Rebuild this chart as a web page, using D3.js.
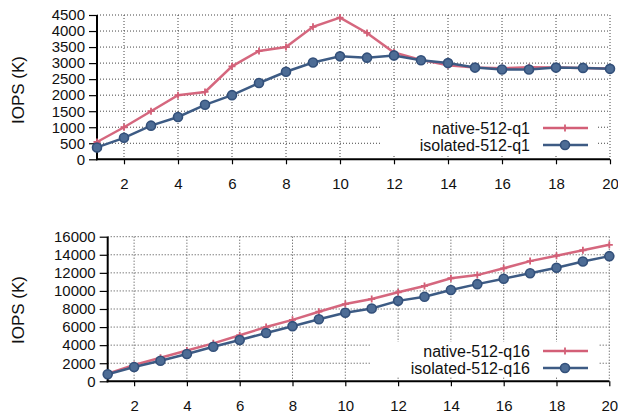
<!DOCTYPE html>
<html>
<head>
<meta charset="utf-8">
<script src="https://cdn.jsdelivr.net/npm/d3@7"></script>
<style>
  body { margin: 0; background: #fff; }
  svg { display: block; font-family: "Liberation Sans", Arial, Helvetica, sans-serif; }
</style>
</head>
<body>
<div id="graphic"></div>
<script>
// threads 1..20
var threads = d3.range(1, 21);

var native_q1 = [540, 1000, 1500, 2000, 2100, 2900, 3380, 3500, 4130, 4420,
                 3940, 3330, 3100, 2930, 2860, 2840, 2870, 2860, 2850, 2830];
var isolated_q1 = [370, 670, 1050, 1320, 1700, 2000, 2380, 2730, 3020, 3210,
                   3170, 3240, 3090, 3000, 2860, 2800, 2800, 2860, 2850, 2820];

var native_q16 = [850, 1800, 2600, 3400, 4200, 5100, 6000, 6800, 7700, 8550,
                  9100, 9850, 10550, 11400, 11750, 12500, 13300, 13900, 14500, 15100];
var isolated_q16 = [780, 1580, 2280, 3020, 3830, 4570, 5350, 6100, 6860, 7590,
                    8050, 8900, 9350, 10100, 10750, 11350, 11950, 12570, 13250, 13850];

var xTicks = [2, 4, 6, 8, 10, 12, 14, 16, 18, 20];
var yTicksTop = d3.range(0, 4501, 500);
var yTicksBottom = d3.range(0, 16001, 2000);

var red = "#d35f77", blue = "#3d5b84";

var svg = d3.select("#graphic").append("svg")
    .attr("width", 618)
    .attr("height", 417);

function panel(cfg) {
  var x = d3.scaleLinear().domain([1, 20]).range([cfg.left, cfg.right]);
  var y = d3.scaleLinear().domain([0, cfg.ymax]).range([cfg.bottom, cfg.top]);
  var g = svg.append("g");

  // dotted grid
  g.selectAll(".hg").data(cfg.yTicks.slice(1)).enter().append("line")
    .attr("x1", cfg.left).attr("x2", cfg.right)
    .attr("y1", function (d) { return y(d); }).attr("y2", function (d) { return y(d); })
    .attr("stroke", "#444").attr("stroke-width", 1).attr("stroke-dasharray", "1,2");
  g.selectAll(".vg").data(xTicks).enter().append("line")
    .attr("x1", function (d) { return x(d); }).attr("x2", function (d) { return x(d); })
    .attr("y1", cfg.top).attr("y2", cfg.bottom)
    .attr("stroke", "#444").attr("stroke-width", 1).attr("stroke-dasharray", "1,2");

  // legend box hides grid
  g.append("rect")
    .attr("x", cfg.legX).attr("y", cfg.legY)
    .attr("width", 598 - cfg.legX).attr("height", cfg.bottom - 5 - cfg.legY)
    .attr("fill", "#fff");

  // axes
  var ya = g.append("g")
    .attr("transform", "translate(" + cfg.left + ",0)")
    .call(d3.axisLeft(y).tickValues(cfg.yTicks).tickFormat(d3.format("d")).tickSize(8).tickPadding(4));
  var xa = g.append("g")
    .attr("transform", "translate(0," + cfg.bottom + ")")
    .call(d3.axisBottom(x).tickValues(xTicks).tickFormat(d3.format("d")).tickSize(5).tickPadding(14));
  [ya, xa].forEach(function (a) {
    a.select(".domain").attr("stroke", "#000").attr("stroke-width", 2);
    a.selectAll(".tick line").attr("stroke", "#000").attr("stroke-width", 1.2);
    a.selectAll(".tick text").attr("fill", "#111").style("font-size", "15px")
      .style("font-family", "'Liberation Sans', Arial, sans-serif");
  });
  ya.select(".domain").attr("d", "M0," + (cfg.bottom + 1) + "V" + cfg.top);
  xa.select(".domain").attr("d", "M" + (cfg.left - 1) + ",0H" + cfg.right);

  // y title
  g.append("text")
    .attr("transform", "translate(24," + cfg.titleY + ") rotate(-90)")
    .attr("text-anchor", "middle")
    .style("font-size", "17px").attr("fill", "#111")
    .text("IOPS (K)");

  var line = d3.line()
    .x(function (d, i) { return x(threads[i]); })
    .y(function (d) { return y(d); });

  // native
  g.append("path").datum(cfg.nat)
    .attr("d", line).attr("fill", "none")
    .attr("stroke", red).attr("stroke-width", 2.5).attr("stroke-opacity", 0.95);
  g.selectAll(".plus").data(cfg.nat).enter().append("path")
    .attr("d", function (d, i) {
      var px = x(threads[i]), py = y(d);
      return "M" + (px - 3.5) + "," + py + "H" + (px + 3.5) + "M" + px + "," + (py - 3.5) + "V" + (py + 3.5);
    })
    .attr("stroke", red).attr("stroke-width", 1.8);

  // isolated
  g.append("path").datum(cfg.iso)
    .attr("d", line).attr("fill", "none")
    .attr("stroke", blue).attr("stroke-width", 2.5);
  g.selectAll(".circ").data(cfg.iso).enter().append("circle")
    .attr("cx", function (d, i) { return x(threads[i]); })
    .attr("cy", function (d) { return y(d); })
    .attr("r", 4.5)
    .attr("fill", "#4d6c95").attr("stroke", "#33507a").attr("stroke-width", 1.6);

  // legend
  var legRows = [
    { name: cfg.natName, color: red, mark: "plus" },
    { name: cfg.isoName, color: blue, mark: "circle" }
  ];
  legRows.forEach(function (r, i) {
    var ly = cfg.legTextY + i * 17;
    g.append("text")
      .attr("x", 530).attr("y", ly + 5.5)
      .attr("text-anchor", "end")
      .style("font-size", "16px").attr("fill", "#111")
      .text(r.name);
    g.append("line")
      .attr("x1", 543).attr("x2", 588).attr("y1", ly).attr("y2", ly)
      .attr("stroke", r.color).attr("stroke-width", 2.5);
    if (r.mark === "plus") {
      g.append("path")
        .attr("d", "M561.5," + ly + "H568.5M565," + (ly - 3.5) + "V" + (ly + 3.5))
        .attr("stroke", red).attr("stroke-width", 1.8);
    } else {
      g.append("circle")
        .attr("cx", 565).attr("cy", ly).attr("r", 4.5)
        .attr("fill", "#4d6c95").attr("stroke", "#33507a").attr("stroke-width", 1.6);
    }
  });
}

panel({
  left: 97, right: 610, top: 15, bottom: 159.3, ymax: 4500,
  yTicks: yTicksTop, nat: native_q1, iso: isolated_q1,
  natName: "native-512-q1", isoName: "isolated-512-q1",
  legX: 382, legY: 118, legTextY: 128, titleY: 90
});

panel({
  left: 107.7, right: 609.3, top: 236.7, bottom: 381.3, ymax: 16000,
  yTicks: yTicksBottom, nat: native_q16, iso: isolated_q16,
  natName: "native-512-q16", isoName: "isolated-512-q16",
  legX: 370, legY: 342, legTextY: 351, titleY: 310
});
</script>
</body>
</html>
